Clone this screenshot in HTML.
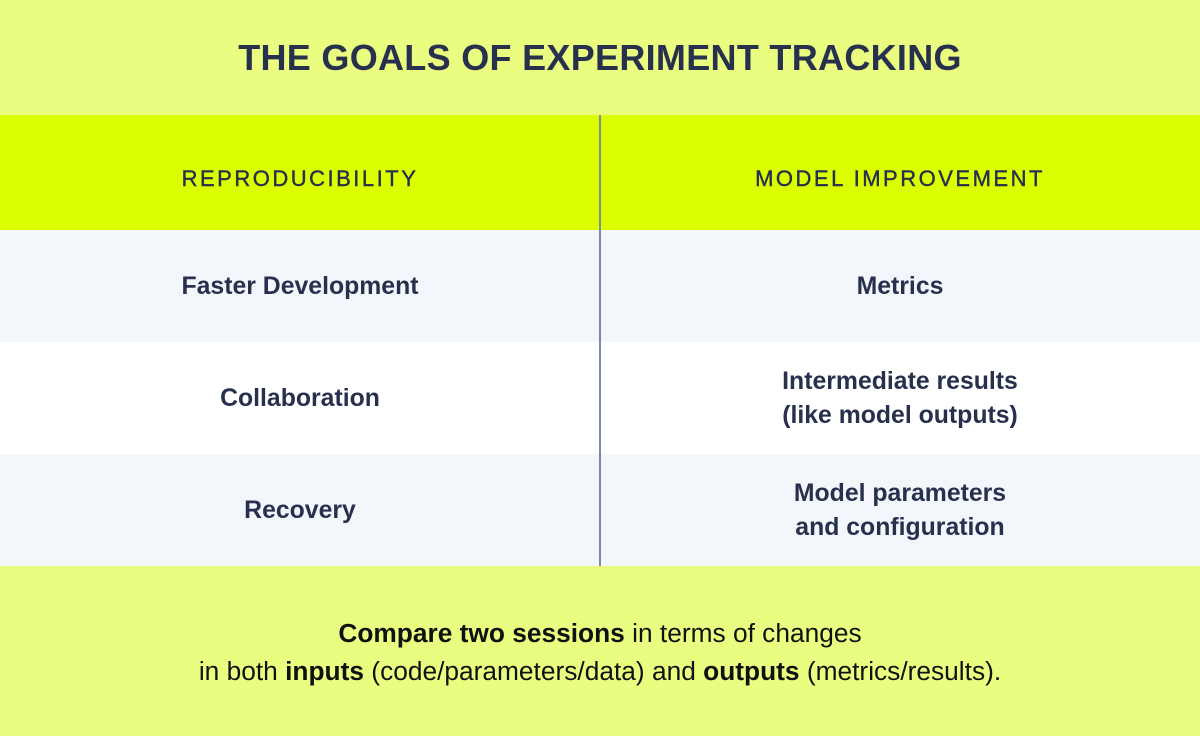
<!DOCTYPE html>
<html><head><meta charset="utf-8"><style>
*{margin:0;padding:0;box-sizing:border-box}
body{width:1200px;height:736px;overflow:hidden;font-family:"Liberation Sans",sans-serif;background:#ebfd80;color:#27304d;position:relative}
.abs{position:absolute;left:0;width:1200px}
.title{top:0;height:115px;display:flex;align-items:center;justify-content:center;font-size:36px;font-weight:bold;letter-spacing:0.3px}
.row{display:flex}
.cell{width:600px;display:flex;align-items:center;justify-content:center;text-align:center;font-weight:bold;font-size:24.8px;line-height:34px}
.hdr{top:115px;height:115px;background:#dcff00}
.hdr .cell{font-weight:normal;letter-spacing:2.5px;font-size:22px;-webkit-text-stroke:0.4px #27304d;padding-top:13px}
.r1{top:230px;height:112px;background:#f3f6fb}
.r2{top:342px;height:112px;background:#ffffff}
.r3{top:454px;height:112px;background:#f3f6fb}
.r1 .cell,.r2 .cell,.r3 .cell{padding-top:1px}
.div{position:absolute;left:599px;top:115px;width:2px;height:451px;background:#7d8aa3}
.foot{top:566px;height:170px;text-align:center;font-size:26.3px;line-height:38px;color:#111;padding-top:48px;letter-spacing:0}
</style></head><body>
<div class="abs title">THE GOALS OF EXPERIMENT TRACKING</div>
<div class="abs row hdr">
<div class="cell">REPRODUCIBILITY</div>
<div class="cell">MODEL IMPROVEMENT</div></div>
<div class="abs row r1">
<div class="cell">Faster Development</div>
<div class="cell">Metrics</div></div>
<div class="abs row r2">
<div class="cell">Collaboration</div>
<div class="cell">Intermediate results<br>(like model outputs)</div></div>
<div class="abs row r3">
<div class="cell">Recovery</div>
<div class="cell">Model parameters<br>and configuration</div></div>
<div class="div"></div>
<div class="abs foot"><b>Compare two sessions</b> in terms of changes<br>in both <b>inputs</b> (code/parameters/data) and <b>outputs</b> (metrics/results).</div>
</body></html>
